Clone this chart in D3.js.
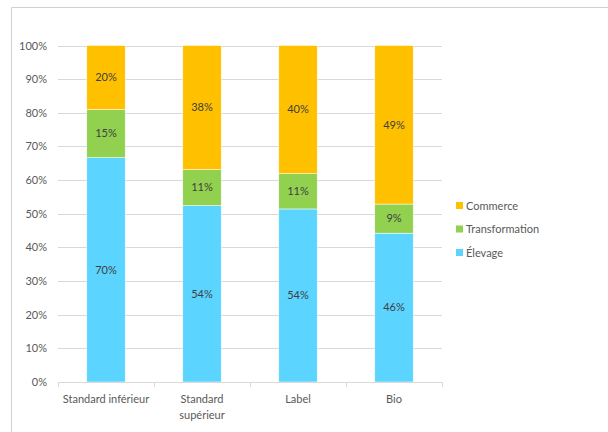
<!DOCTYPE html>
<html><head><meta charset="utf-8">
<script src="https://cdn.jsdelivr.net/npm/d3@7"></script>
<style>body{margin:0;background:#fff}svg{display:block;font-family:Lato,"Open Sans",sans-serif}</style>
</head><body><svg id="c" width="608" height="432"></svg>
<script>
const categories = ["Standard inférieur", "Standard\nsupérieur", "Label", "Bio"];
const seriesNames = ["Élevage", "Transformation", "Commerce"];
const elevage = [70, 54, 54, 46];
const transformation = [15, 11, 11, 9];
const commerce = [20, 38, 40, 49];
const yTicks = [0, 0.1, 0.2, 0.3, 0.4, 0.5, 0.6, 0.7, 0.8, 0.9, 1.0];
const colors = ["#5BD4FF", "#92D050", "#FFC000"];

(function () {
const svg = d3.select("#c");
// outer frame
svg.append("path").attr("d", "M11.5,432 V7.5 H608").attr("fill", "none").attr("stroke", "#d0d0d0");

const pLeft = 58, pRight = 442, pTop = 45.5, pBottom = 382;
const x = d3.scaleBand().domain(categories).range([pLeft, pRight]).paddingInner(0.6).paddingOuter(0.3);
const y = d3.scaleLinear().domain([0, 1]).range([pBottom, pTop]);

// gridlines
svg.append("g").selectAll("line").data(yTicks.filter(t => t > 0)).join("line")
  .attr("x1", pLeft).attr("x2", pRight).attr("y1", d => Math.round(y(d)) + 0.5).attr("y2", d => Math.round(y(d)) + 0.5)
  .attr("stroke", "#d9d9d9");

// y axis labels
const ya = svg.append("g").attr("transform", `translate(${pLeft},0)`)
  .call(d3.axisLeft(y).tickValues(yTicks).tickFormat(d3.format(".0%")).tickSize(0).tickPadding(11));
ya.select(".domain").remove();
ya.selectAll("text").attr("fill", "#595959").style("font-size", "11px").style("font-family", "Lato,'Open Sans',sans-serif");

// stacked data
const rows = categories.map((c, i) => {
  const vals = [elevage[i], transformation[i], commerce[i]];
  const tot = d3.sum(vals);
  const r = { cat: c };
  seriesNames.forEach((s, j) => r[s] = vals[j] / tot);
  r.raw = vals;
  return r;
});
const stacked = d3.stack().keys(seriesNames)(rows);

stacked.forEach((layer, j) => {
  const g = svg.append("g");
  g.selectAll("rect").data(layer).join("rect")
    .attr("x", d => x(d.data.cat)).attr("width", x.bandwidth())
    .attr("y", d => y(d[1])).attr("height", d => y(d[0]) - y(d[1]))
    .attr("fill", colors[j]).attr("stroke", "#fff").attr("stroke-width", 0.5);
  g.selectAll("text").data(layer).join("text")
    .attr("x", d => x(d.data.cat) + x.bandwidth() / 2)
    .attr("y", d => (y(d[0]) + y(d[1])) / 2)
    .attr("dy", "0.35em").attr("text-anchor", "middle")
    .attr("fill", "#404040").style("font-size", "11px")
    .text(d => d.data.raw[j] + "%");
});

// x axis
const xa = svg.append("g").attr("transform", `translate(0,${pBottom})`);
xa.append("line").attr("x1", pLeft).attr("x2", pRight).attr("y1", 0.5).attr("y2", 0.5).attr("stroke", "#d9d9d9");
const step = (pRight - pLeft) / categories.length;
xa.selectAll(".tk").data(d3.range(categories.length + 1)).join("line")
  .attr("x1", i => Math.round(pLeft + i * step) + 0.5).attr("x2", i => Math.round(pLeft + i * step) + 0.5)
  .attr("y1", 0).attr("y2", 5).attr("stroke", "#d9d9d9");
xa.selectAll("text").data(categories).join("text")
  .attr("text-anchor", "middle").attr("fill", "#595959").style("font-size", "11px")
  .attr("x", d => x(d) + x.bandwidth() / 2)
  .each(function(d) {
    const lines = d.split("\n");
    d3.select(this).selectAll("tspan").data(lines).join("tspan")
      .attr("x", x(d) + x.bandwidth() / 2).attr("y", (l, k) => 21 + k * 16).text(l => l);
  });

// legend
const legendOrder = ["Commerce", "Transformation", "Élevage"];
const lg = svg.append("g").attr("transform", "translate(456,0)");
legendOrder.forEach((s, k) => {
  const yy = 206 + k * 23.5;
  lg.append("rect").attr("x", 0).attr("y", yy - 4).attr("width", 7).attr("height", 7).attr("fill", colors[seriesNames.indexOf(s)]);
  lg.append("text").attr("x", 10).attr("y", yy).attr("dy", "0.35em").attr("fill", "#595959").style("font-size", "11px").text(s);
});
})();
</script></body></html>
